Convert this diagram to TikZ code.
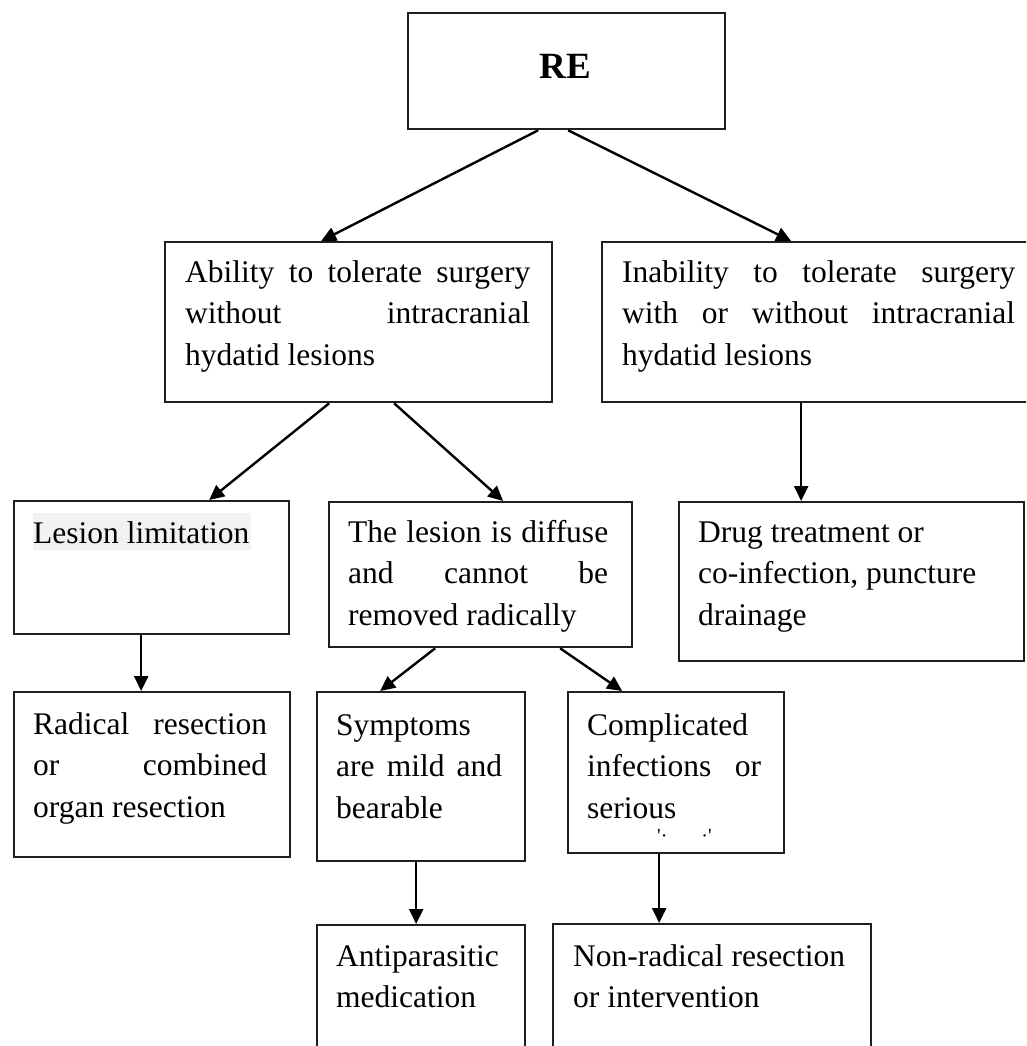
\documentclass[tikz,border=0pt]{standalone}
\usepackage{fontspec}
\setmainfont{Liberation Serif}
\usetikzlibrary{arrows.meta}
\newcommand{\jl}[2]{\hbox to #1pt{#2}}
\newcommand{\stk}[1]{\vtop{\baselineskip=41.5pt\lineskiplimit=-100pt\lineskip=0pt #1}}
\begin{document}
\begin{tikzpicture}[x=1pt,y=-1pt,
  box/.style={draw=black!88, line width=2.3pt, rectangle, inner sep=0pt, anchor=north west},
  txt/.style={anchor=base west, inner sep=0pt, font=\fontsize{31.5}{41.5}\selectfont},
  arr/.style={draw=black, line width=2.4pt, -{Triangle[length=15pt,width=14pt]}}]
\useasboundingbox (0,0) rectangle (1026,1046);
\clip (0,0) rectangle (1026,1046);
\fill[white] (0,0) rectangle (1026,1046);
% boxes
\node[box, minimum width=317pt, minimum height=116pt] (re) at (407,12) {};
\node[box, minimum width=387pt, minimum height=160pt] (ability) at (164,241) {};
\node[box, minimum width=439pt, minimum height=160pt] (inability) at (601,241) {};
\node[box, minimum width=275pt, minimum height=133pt] (lesion) at (13,500) {};
\node[box, minimum width=303pt, minimum height=145pt] (diffuse) at (328,501) {};
\node[box, minimum width=345pt, minimum height=159pt] (drug) at (678,501) {};
\node[box, minimum width=276pt, minimum height=165pt] (radical) at (13,691) {};
\node[box, minimum width=208pt, minimum height=169pt] (symptoms) at (316,691) {};
\node[box, minimum width=216pt, minimum height=161pt] (complicated) at (567,691) {};
\node[box, minimum width=208pt, minimum height=150pt] (anti) at (316,924) {};
\node[box, minimum width=318pt, minimum height=150pt] (nonrad) at (552,923) {};
% highlight behind "Lesion limitation"
\fill[black!5] (33,513) rectangle (251,550);
% texts
\node[txt, anchor=base, font=\fontsize{37}{40}\selectfont\bfseries] (reT) at (565.5,79) {RE};
\node[txt] (abilityT) at (185,282) {\stk{\jl{345}{Ability\hfill to\hfill tolerate\hfill surgery}\jl{345}{without\hfill intracranial}\hbox{hydatid lesions}}};
\node[txt] (inabilityT) at (622,282) {\stk{\jl{393}{Inability\hfill to\hfill tolerate\hfill surgery}\jl{393}{with\hfill or\hfill without\hfill intracranial}\hbox{hydatid lesions}}};
\node[txt] (lesionT) at (33,543) {Lesion limitation};
\node[txt] (diffuseT) at (348,542) {\stk{\jl{260}{The\hfill lesion\hfill is\hfill diffuse}\jl{260}{and\hfill cannot\hfill be}\hbox{removed radically}}};
\node[txt] (drugT) at (698,542) {\stk{\hbox{Drug treatment or}\hbox{co-infection, puncture}\hbox{drainage}}};
\node[txt] (radicalT) at (33,734) {\stk{\jl{234}{Radical\hfill resection}\jl{234}{or\hfill combined}\hbox{organ resection}}};
\node[txt] (symptomsT) at (336,735) {\stk{\hbox{Symptoms}\jl{166}{are\hfill mild\hfill and}\hbox{bearable}}};
\node[txt] (complicatedT) at (587,735) {\stk{\hbox{Complicated}\jl{174}{infections\hfill or}\hbox{serious}}};
\node[txt, font=\fontsize{20}{20}\selectfont] (dotsT) at (657,842) {\textquotesingle\textperiodcentered\hspace{34pt}\textperiodcentered\textquotesingle};
\node[txt] (antiT) at (336,966) {\stk{\hbox{Antiparasitic}\hbox{medication}}};
\node[txt] (nonradT) at (573,966) {\stk{\hbox{Non-radical resection}\hbox{or intervention}}};
% connectors
\draw[arr] ([xshift=-28.5pt]re.south) -- ([xshift=-37.5pt]ability.north);
\draw[arr] ([xshift=1.5pt]re.south) -- ([xshift=-30.5pt]inability.north);
\draw[arr] ([xshift=-29.5pt]ability.south) -- ([xshift=57.5pt]lesion.north);
\draw[arr] ([xshift=35.5pt]ability.south) -- ([xshift=22.5pt]diffuse.north);
\draw[arr] ([xshift=-20.5pt]inability.south) -- ([xshift=-50.5pt]drug.north);
\draw[arr] ([xshift=-10.5pt]lesion.south) -- ([xshift=-11pt]radical.north);
\draw[arr] ([xshift=-45.5pt]diffuse.south) -- ([xshift=-41pt]symptoms.north);
\draw[arr] ([xshift=79.5pt]diffuse.south) -- ([xshift=-54pt]complicated.north);
\draw[arr] ([xshift=-5pt]symptoms.south) -- ([xshift=-5pt]anti.north);
\draw[arr] ([xshift=-17pt]complicated.south) -- ([xshift=-53pt]nonrad.north);
\end{tikzpicture}
\end{document}
